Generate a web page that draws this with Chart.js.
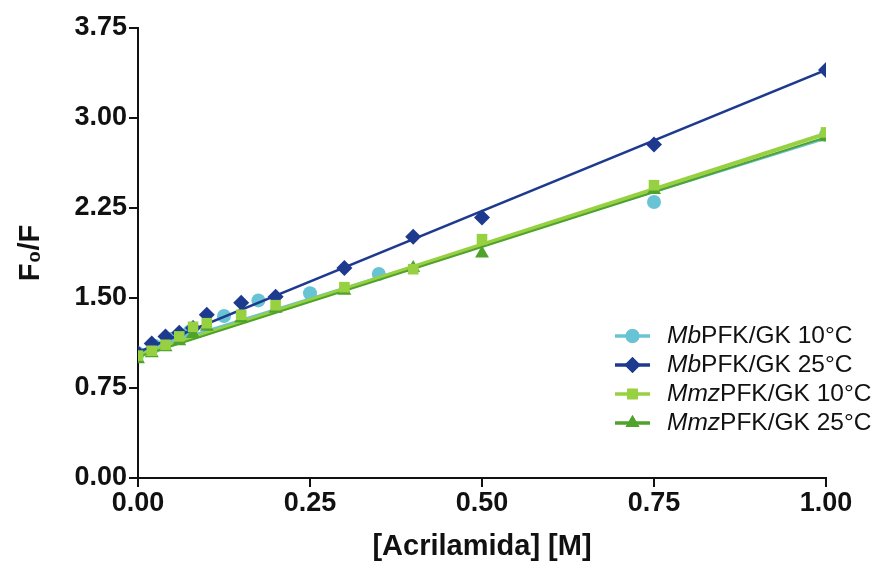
<!DOCTYPE html>
<html>
<head>
<meta charset="utf-8">
<script src="https://cdn.jsdelivr.net/npm/chart.js@4.4.1/dist/chart.umd.min.js"></script>
<style>
html,body{margin:0;padding:0;background:#fff;}
#wrap{width:873px;height:564px;position:relative;}
</style>
</head>
<body>
<div id="wrap"><canvas id="c" width="873" height="564"></canvas></div>
<script>
// ---- data ----
const xMain = [0, 0.02, 0.04, 0.06, 0.08, 0.1, 0.15, 0.2, 0.3, 0.4, 0.5, 0.75, 1.0];
const xMb10 = [0, 0.025, 0.05, 0.075, 0.125, 0.175, 0.25, 0.35, 0.75, 1.0];
const mb10 = [1.04, 1.10, 1.16, 1.22, 1.35, 1.48, 1.54, 1.70, 2.30, 2.86];
const mb25 = [1.04, 1.12, 1.18, 1.21, 1.25, 1.36, 1.46, 1.51, 1.75, 2.01, 2.17, 2.78, 3.40];
const mmz10 = [1.02, 1.06, 1.11, 1.18, 1.26, 1.29, 1.36, 1.44, 1.59, 1.74, 1.99, 2.44, 2.88];
const mmz25 = [0.99, 1.04, 1.09, 1.14, 1.20, 1.26, 1.33, 1.41, 1.56, 1.75, 1.87, 2.40, 2.84];
// fitted lines (endpoints)
const fitX = [0, 1.0];
const fitMb10 = [1.05, 2.83];
const fitMb25 = [1.05, 3.40];
const fitMmz10 = [1.02, 2.87];
const fitMmz25 = [1.01, 2.84];
const yTicks = [0, 0.75, 1.5, 2.25, 3.0, 3.75];
const xTicks = [0, 0.25, 0.5, 0.75, 1.0];
const legendItems = [
  {it:'Mb', rest:'PFK/GK 10°C', key:'mb10'},
  {it:'Mb', rest:'PFK/GK 25°C', key:'mb25'},
  {it:'Mmz', rest:'PFK/GK 10°C', key:'mmz10'},
  {it:'Mmz', rest:'PFK/GK 25°C', key:'mmz25'}
];

const C = {
  mb10: '#68c4d4',
  mb25: '#1d3a8f',
  mmz10: '#97d040',
  mmz25: '#4fa22c'
};
const STYLE = {
  mb10: {ps:'circle', r:7},
  mb25: {ps:'rectRot', r:8},
  mmz10: {ps:'rect', r:7.5},
  mmz25: {ps:'triangle', r:8}
};

function pts(xs, ys){ return xs.map((x,i)=>({x:x, y:ys[i]})); }

function scatterDS(key, xs, ys, order){
  return {
    label:key, data:pts(xs,ys), showLine:false,
    pointStyle:STYLE[key].ps, pointRadius:STYLE[key].r,
    backgroundColor:C[key], borderColor:C[key], borderWidth:0,
    order:order
  };
}
function lineDS(key, ys, width, order){
  return {
    label:key+'fit', data:pts(fitX, ys), showLine:true, pointRadius:0,
    borderColor:C[key], borderWidth:width, fill:false, order:order
  };
}

const legendPlugin = {
  id:'customLegend',
  afterDatasetsDraw(chart){
    const ctx = chart.ctx;
    ctx.save();
    const x0 = 615, x1 = 650, tx = 667;
    const ys = [336, 365, 394, 423];
    legendItems.forEach((it, i)=>{
      const y = ys[i];
      const col = C[it.key];
      ctx.strokeStyle = col; ctx.lineWidth = 3.5;
      ctx.beginPath(); ctx.moveTo(x0, y); ctx.lineTo(x1, y); ctx.stroke();
      ctx.fillStyle = col;
      Chart.helpers.drawPoint(ctx, {pointStyle:STYLE[it.key].ps, radius:STYLE[it.key].r, borderWidth:0}, (x0+x1)/2, y);
      ctx.fill();
      ctx.fillStyle = '#111';
      ctx.textBaseline = 'middle';
      ctx.font = 'italic 24.5px "Liberation Sans", Arial, sans-serif';
      ctx.fillText(it.it, tx, y);
      const w = ctx.measureText(it.it).width;
      ctx.font = '24.5px "Liberation Sans", Arial, sans-serif';
      ctx.fillText(it.rest, tx + w, y);
    });
    ctx.restore();
  }
};

const tickFont = {family:'"Liberation Sans", Arial, sans-serif', size:27, weight:'bold'};

new Chart(document.getElementById('c'), {
  type:'scatter',
  data:{
    datasets:[
      scatterDS('mmz10', xMain, mmz10, 1),
      scatterDS('mmz25', xMain, mmz25, 2),
      lineDS('mmz25', fitMmz25, 2, 3),
      lineDS('mmz10', fitMmz10, 4, 4),
      scatterDS('mb25', xMain, mb25, 5),
      lineDS('mb25', fitMb25, 2.5, 6),
      lineDS('mb10', fitMb10, 2.5, 7),
      scatterDS('mb10', xMb10, mb10, 8)
    ]
  },
  options:{
    responsive:false, animation:false, devicePixelRatio:1,
    layout:{padding:{left:0, right:47, top:28, bottom:0}},
    plugins:{legend:{display:false}, tooltip:{enabled:false}},
    scales:{
      x:{
        type:'linear', min:0, max:1,
        afterBuildTicks(s){ s.ticks = xTicks.map(v=>({value:v})); },
        afterFit(s){ s.height = 86; },
        ticks:{callback:v=>v.toFixed(2), color:'#111', font:tickFont, padding:0, maxRotation:0},
        grid:{drawOnChartArea:false, drawTicks:true, tickLength:9, color:'#111', lineWidth:2},
        border:{display:true, color:'#111', width:2},
        title:{display:true, text:'[Acrilamida] [M]', color:'#111', font:{family:'"Liberation Sans", Arial, sans-serif', size:29, weight:'bold'}, padding:{top:4,bottom:0}}
      },
      y:{
        type:'linear', min:0, max:3.75,
        afterBuildTicks(s){ s.ticks = yTicks.map(v=>({value:v})); },
        afterFit(s){ s.width = 138; },
        ticks:{callback:v=>v.toFixed(2), color:'#111', font:tickFont, padding:2},
        grid:{drawOnChartArea:false, drawTicks:true, tickLength:9, color:'#111', lineWidth:2},
        border:{display:true, color:'#111', width:2},
        title:{display:true, text:'F\u2080/F', color:'#111', font:{family:'"Liberation Sans", Arial, sans-serif', size:29, weight:'bold'}, padding:{top:14,bottom:0}}
      }
    }
  },
  plugins:[legendPlugin]
});
</script>
</body>
</html>
